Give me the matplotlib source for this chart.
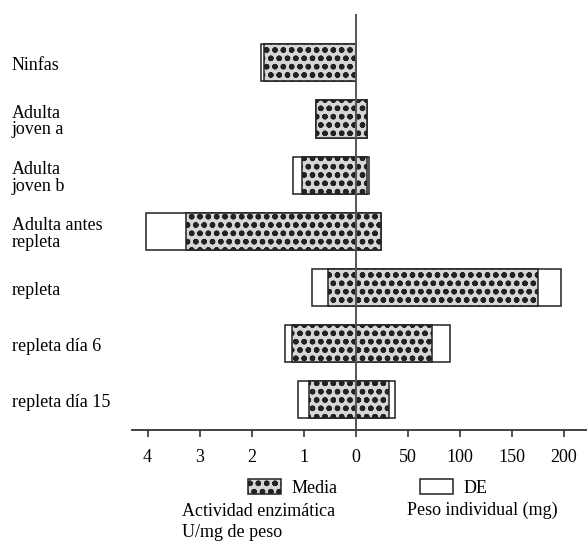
import numpy as np
import matplotlib
matplotlib.use('Agg')
import matplotlib.pyplot as plt
from matplotlib import rcParams

# fuente tipo Times
rcParams['font.family'] = ['Liberation Serif', 'DejaVu Serif']
rcParams['hatch.color'] = '#666666'
rcParams['hatch.linewidth'] = 1.6

# datos
categorias = ['Ninfas', 'Adulta\njoven a', 'Adulta\njoven b', 'Adulta antes\nrepleta',
              'repleta', 'repleta día 6', 'repleta día 15']
act_media = [1.76, 0.77, 1.03, 3.27, 0.53, 1.23, 0.89]      # U/mg de peso
act_de = [0.06, 0.0, 0.18, 0.76, 0.30, 0.13, 0.21]
peso_media = [0, 10.6, 10.9, 24.3, 175.7, 73.4, 32.2]        # mg
peso_de = [0, 0.0, 1.9, 0.0, 22.1, 17.7, 5.5]

tick_pos = [-4, -3, -2, -1, 0, 1, 2, 3, 4]
tick_labels = ['4', '3', '2', '1', '0', '50', '100', '150', '200']
escala_peso = 50.0  # 50 mg por unidad del eje

act_media = np.array(act_media)
act_de = np.array(act_de)
peso_media = np.array(peso_media) / escala_peso
peso_de = np.array(peso_de) / escala_peso
y = np.arange(len(categorias))

fig = plt.figure(figsize=(5.87, 5.44), dpi=100)
ax = fig.add_axes([132 / 587, 114 / 544, 455 / 587, 416 / 544])

# barras DE (blancas) detrás
izq_de = -(act_media + act_de)
der_de = peso_media + peso_de
b_de = ax.barh(y, der_de - izq_de, left=izq_de, height=0.66,
               color='white', edgecolor='#222222', linewidth=1.1, zorder=2)
# barras de la media con trama
b_media = ax.barh(y, peso_media + act_media, left=-act_media, height=0.66,
                  color='#d6d6d6', edgecolor='#222222', linewidth=1.1,
                  hatch='oo', zorder=3)

ax.axvline(0, color='#555555', linewidth=1.4, zorder=5)

ax.set_xlim(-4.30, 4.45)
ax.set_ylim(6.54, -0.87)
ax.set_xticks(tick_pos)
ax.set_xticklabels(tick_labels, fontsize=13)
ax.tick_params(axis='x', direction='out', length=5, width=1.2, color='#333333', pad=9)

# etiquetas de categorías alineadas a la izquierda
ax.set_yticks([])
trans = ax.get_yaxis_transform()
for yi, cat in zip(y, categorias):
    ax.text(-120 / 455, yi + 0.05, cat, transform=trans, fontsize=13,
            ha='left', va='center', linespacing=0.95)

for s in ['top', 'right', 'left']:
    ax.spines[s].set_visible(False)
ax.spines['bottom'].set_linewidth(1.3)
ax.spines['bottom'].set_color('#333333')

ax.legend([b_media, b_de], ['Media', 'DE'], ncol=2, frameon=False, fontsize=13,
          loc='center left', bbox_to_anchor=(248 / 587, 56 / 544),
          bbox_transform=fig.transFigure, handlelength=1.8, handleheight=0.9,
          handletextpad=0.6, columnspacing=4.6, borderpad=0, borderaxespad=0)

fig.text(182 / 587, 22 / 544, 'Actividad enzimática\nU/mg de peso', fontsize=13,
         va='center', ha='left', linespacing=1.35)
fig.text(407 / 587, 34 / 544, 'Peso individual (mg)', fontsize=13,
         va='center', ha='left')

fig.savefig('out.png', dpi=100)
